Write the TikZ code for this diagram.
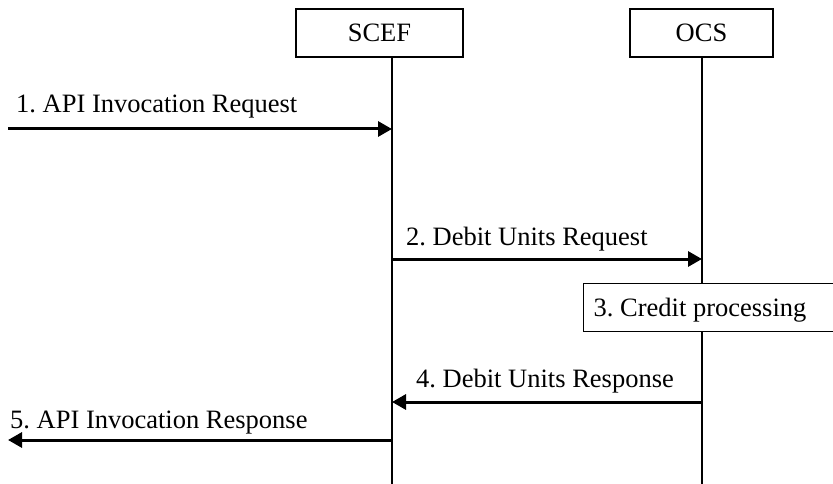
\documentclass[tikz,border=0pt]{standalone}
\usepackage{fontspec}
\setmainfont{Liberation Serif}
\usetikzlibrary{arrows.meta}
\frenchspacing
\begin{document}
\begin{tikzpicture}[x=1pt,y=-1pt,
  every node/.style={font=\fontsize{26.5}{30}\selectfont},
  entity/.style={draw, line width=1.3pt, minimum width=167pt, minimum height=48pt, inner sep=0pt},
  lifeline/.style={line width=1.3pt},
  msg/.style={line width=3pt, -{Triangle[length=14pt,width=15pt]}},
  lbl/.style={anchor=base west, inner sep=0pt},
  procbox/.style={draw, fill=white, line width=1.3pt, anchor=north west, minimum height=48pt, minimum width=270pt, inner xsep=9pt}]
\useasboundingbox (0,0) rectangle (833,484);
\clip (0,0) rectangle (833,484);
% entities
\node[entity] (scef) at (379.5,33) {SCEF};
\node[entity, minimum width=143pt] (ocs) at (701.5,33) {OCS};
% lifeline ends
\coordinate (scefTop) at (392,57);
\coordinate (scefBot) at (392,484);
\coordinate (ocsTop) at (702,57);
\coordinate (ocsBot) at (702,484);
\draw[lifeline] (scefTop) -- (scefBot);
\draw[lifeline] (ocsTop) -- (ocsBot);
% message points
\coordinate (m1s) at (8,129);
\coordinate (m1e) at (392,129);
\coordinate (m2s) at (392,259);
\coordinate (m2e) at (702,259);
\coordinate (m4s) at (702,402);
\coordinate (m4e) at (392,402);
\coordinate (m5s) at (392,440);
\coordinate (m5e) at (8,440);
\draw[msg] (m1s) -- (m1e);
\draw[msg] (m2s) -- (m2e);
\draw[msg] (m4s) -- (m4e);
\draw[msg] (m5s) -- (m5e);
% labels
\node[lbl] (l1) at (16,113) {1. API Invocation Request};
\node[lbl] (l2) at (406,245) {2. Debit Units Request};
\node[lbl] (l4) at (416,387) {4. Debit Units Response};
\node[lbl] (l5) at (10,428) {5. API Invocation Response};
% processing box
\node[procbox, text depth=0pt] (proc) at (583,283) {\makebox[250pt][l]{3. Credit processing}};
\end{tikzpicture}
\end{document}
